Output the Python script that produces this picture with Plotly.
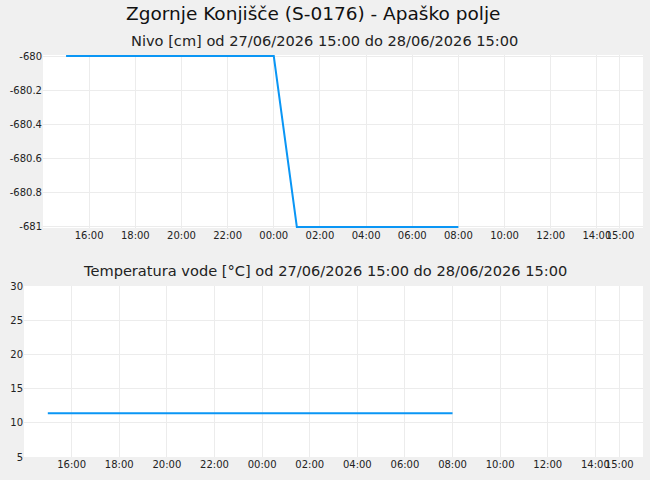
import pandas as pd
import plotly.graph_objects as go
from plotly.subplots import make_subplots

# hourly readings, 27/06 15:00 -> 28/06 08:00
times = pd.date_range("2026-06-27 15:00", "2026-06-28 08:00", freq="h")
nivo = [-680, -680, -680, -680, -680, -680, -680, -680, -680, -680,
        -681, -681, -681, -681, -681, -681, -681, -681]
temp = [11.4] * 18

tick_times = list(pd.date_range("2026-06-27 16:00", "2026-06-28 14:00", freq="2h")) + [pd.Timestamp("2026-06-28 15:00")]
tick_text = [t.strftime("%H:%M") for t in tick_times]
nivo_ticks = [-680, -680.2, -680.4, -680.6, -680.8, -681]
temp_ticks = [30, 25, 20, 15, 10, 5]

LINE = "#0a96f5"
GRID = "#ececec"
FONT = "DejaVu Sans"
x_range = ["2026-06-27 14:00", "2026-06-28 16:00"]

fig = make_subplots(rows=2, cols=1)
fig.add_trace(go.Scatter(x=times, y=nivo, mode="lines", line=dict(color=LINE, width=2)), row=1, col=1)
fig.add_trace(go.Scatter(x=times, y=temp, mode="lines", line=dict(color=LINE, width=2)), row=2, col=1)

W, H = 650, 480
ml, mr, mt, mb = 24, 7, 55, 23
pw, ph = W - ml - mr, H - mt - mb

for ax in ["xaxis", "xaxis2"]:
    fig.layout[ax].update(range=x_range, tickvals=tick_times, ticktext=tick_text, showgrid=True, gridcolor=GRID,
                          showline=False, zeroline=False, tickfont=dict(size=10, color="#222"), ticks="", tickangle=0)
fig.layout.xaxis.domain = [(43 - ml) / pw, 1]
fig.layout.xaxis2.domain = [0, 1]
# tiny padding so the 2px line at the range edges is not clipped in half
fig.update_yaxes(range=[-681.006, -679.994], tickvals=nivo_ticks, ticktext=["-680", "-680.2", "-680.4", "-680.6", "-680.8", "-681"],
                 domain=[(H - mb - 228) / ph, 1], row=1, col=1)
fig.update_yaxes(range=[5, 30], tickvals=temp_ticks, domain=[0, (H - mb - 286) / ph], row=2, col=1)
fig.update_yaxes(showgrid=True, gridcolor=GRID, zeroline=False, showline=False, tickfont=dict(size=10, color="#222"))


def title(text, cx, cy, size, color):
    fig.add_annotation(text=text, xref="paper", yref="paper", x=(cx - ml) / pw, y=(H - mb - cy) / ph,
                       xanchor="center", yanchor="middle", showarrow=False, font=dict(size=size, color=color))


title("Zgornje Konjišče (S-0176) - Apaško polje", 313, 14, 18.5, "#111")
title("Nivo [cm] od 27/06/2026 15:00 do 28/06/2026 15:00", 324, 40, 14.6, "#222")
title("Temperatura vode [°C] od 27/06/2026 15:00 do 28/06/2026 15:00", 325, 270, 14.6, "#222")

fig.update_layout(width=W, height=H, margin=dict(l=ml, r=mr, t=mt, b=mb), showlegend=False,
                  paper_bgcolor="#f0f0f0", plot_bgcolor="white", font=dict(family=FONT))
fig.write_html("out.html", config={"displayModeBar": False}, post_script="document.body.style.margin='0';")
